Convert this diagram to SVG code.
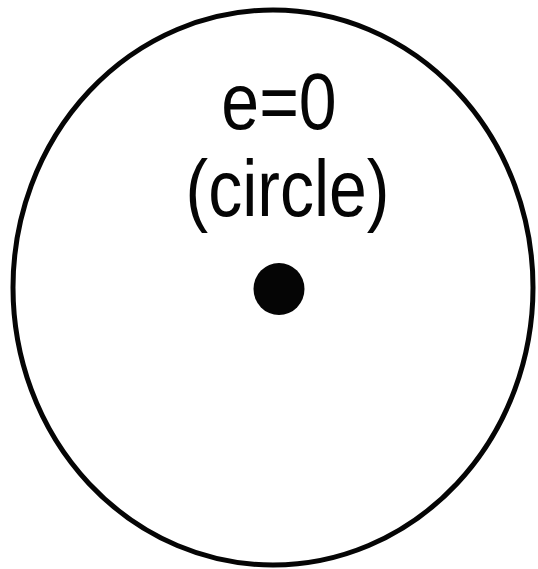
<svg xmlns="http://www.w3.org/2000/svg" width="538" height="569" viewBox="0 0 538 569">
<style>
.lbl{font-family:"Liberation Sans",Arial,sans-serif;font-size:80px;fill:#050505;text-anchor:middle}
</style>
<rect width="538" height="569" fill="#fff"/>
<g id="orbit">
<ellipse cx="273" cy="287.5" rx="260" ry="277.5" fill="none" stroke="#050505" stroke-width="5"/>
</g>
<g id="focus">
<ellipse cx="279" cy="289" rx="25.5" ry="26" fill="#050505"/>
</g>
<g id="label">
<text class="lbl" transform="translate(279,129) scale(0.85,1)">e=0</text>
<text class="lbl" transform="translate(287.5,216) scale(0.85,1)">(circle)</text>
</g>
</svg>
